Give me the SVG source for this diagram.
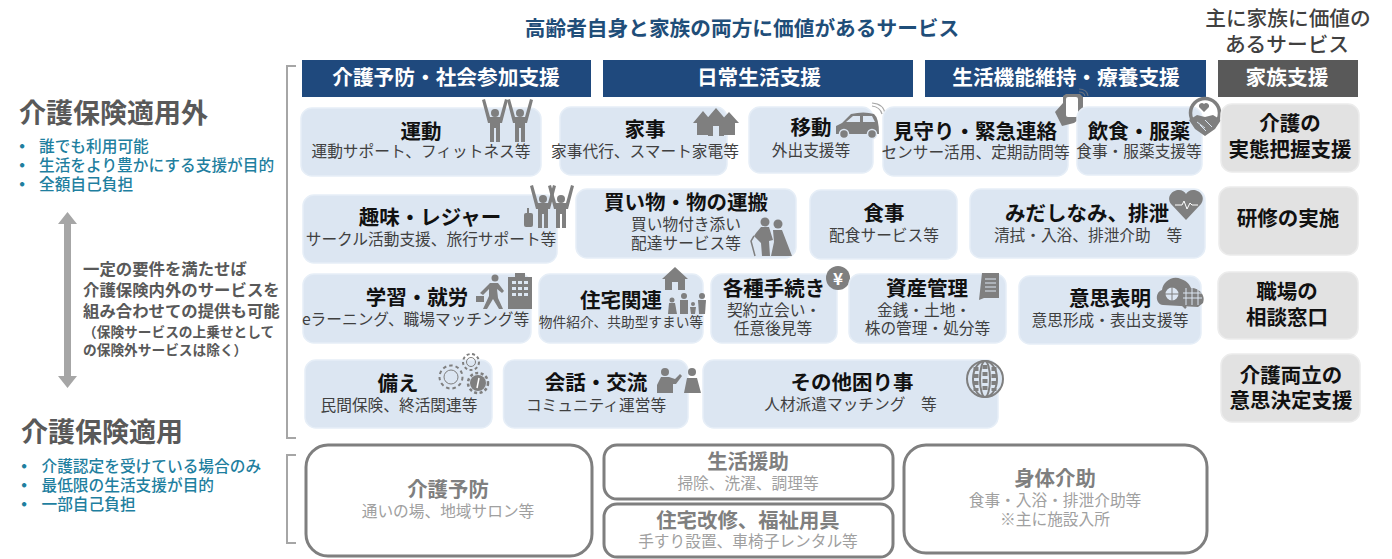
<svg xmlns="http://www.w3.org/2000/svg" xmlns:xlink="http://www.w3.org/1999/xlink" width="1392" height="559" viewBox="0 0 1392 559">
<style>
text{font-family:"Noto Sans CJK JP","Noto Sans",sans-serif;dominant-baseline:central;text-anchor:middle;transform:translateY(-1.5px)}
.b{fill:#dce6f2;stroke:#e6eef7;stroke-width:1.5}
.g{fill:#e2e2e2;stroke:#ececec;stroke-width:1.5}
.o{fill:#fff;stroke:#7f7f7f;stroke-width:3}
.h{stroke:none}
.t{font-size:20.5px;font-weight:700;fill:#111}
.s{font-size:15.7px;fill:#404040}
.w{font-size:20.7px;font-weight:700;fill:#fff}
.ot{font-size:20.4px;font-weight:700;fill:#7f7f7f}
.os{font-size:15.7px;fill:#a0a0a0}
.l{text-anchor:start}
.big{font-size:27px;font-weight:700;fill:#595959}
.bu{font-size:15.7px;font-weight:500;fill:#1f7f9f}
.d{font-weight:900}
.m{font-size:16.4px;font-weight:700;fill:#595959}
.n{font-size:13.7px;font-weight:700;fill:#595959}
.ic{fill:#7f7f7f}
.il{fill:none;stroke:#7f7f7f}
.br{fill:none;stroke:#a6a6a6;stroke-width:2}
</style>
<defs>
<g id="p"><circle cx="0" cy="-9" r="4"/><path d="M-5-4H5L6 8 3 8 3 20H-3L-3 8-6 8Z"/></g>
<g id="up"><circle cx="0" cy="-7" r="4"/><path d="M-13-20-10-21-5-3H5L10-21 13-20 7 3 5 3 5 22H1V8H-1V22H-5L-5 3-7 3Z"/></g>
</defs>
<text x="742" y="28" font-size="20.7" font-weight="700" fill="#1f4e79">高齢者自身と家族の両方に価値があるサービス</text>
<text x="1288" y="18" font-size="20.7" font-weight="500" fill="#404040">主に家族に価値の</text>
<text x="1287" y="44" font-size="20.7" font-weight="500" fill="#404040">あるサービス</text>
<g id="header-1"><rect class="h" x="302" y="60" width="289" height="37" fill="#1f497d"/><text class="w" x="446" y="77">介護予防・社会参加支援</text></g>
<g id="header-2"><rect class="h" x="603" y="60" width="310" height="37" fill="#1f497d"/><text class="w" x="759" y="77">日常生活支援</text></g>
<g id="header-3"><rect class="h" x="925" y="60" width="281" height="37" fill="#1f497d"/><text class="w" x="1066" y="77">生活機能維持・療養支援</text></g>
<g id="header-4"><rect class="h" x="1218" y="60" width="140" height="37" fill="#595959"/><text class="w" x="1287" y="77">家族支援</text></g>
<g id="connectors">
<path class="br" d="M296 66H287V438H296"/>
<path class="br" d="M296 455H287V543H296"/>
<path d="M67.500 212 77 224H71V376H77L67.500 388 58 376H64V224H58Z" fill="#a6a6a6"/>
</g>
<g id="left-upper">
<text class="big l" x="19" y="113">介護保険適用外</text>
<text class="bu d" x="22" y="147">・</text><text class="bu l" x="39" y="147">誰でも利用可能</text>
<text class="bu d" x="22" y="166">・</text><text class="bu l" x="39" y="166">生活をより豊かにする支援が目的</text>
<text class="bu d" x="22" y="185">・</text><text class="bu l" x="39" y="185">全額自己負担</text>
</g>
<g id="left-note">
<text class="m l" x="83" y="269">一定の要件を満たせば</text>
<text class="m l" x="83" y="290">介護保険内外のサービスを</text>
<text class="m l" x="83" y="311">組み合わせての提供も可能</text>
<text class="n l" x="83" y="332">（保険サービスの上乗せとして</text>
<text class="n l" x="83" y="350">の保険外サービスは除く）</text>
</g>
<g id="left-lower">
<text class="big l" x="21" y="432">介護保険適用</text>
<text class="bu d" x="24" y="467">・</text><text class="bu l" x="41.500" y="467">介護認定を受けている場合のみ</text>
<text class="bu d" x="24" y="486">・</text><text class="bu l" x="41.500" y="486">最低限の生活支援が目的</text>
<text class="bu d" x="24" y="505">・</text><text class="bu l" x="41.500" y="505">一部自己負担</text>
</g>
<g id="n-undou"><rect class="b" x="301" y="108" width="240" height="68" rx="11"/>
<g class="ic"><use xlink:href="#up" x="495" y="120"/><use xlink:href="#up" x="520" y="120"/></g>
<text class="t" x="421" y="131">運動</text><text class="s" x="421" y="152">運動サポート、フィットネス等</text></g>
<g id="n-kaji"><rect class="b" x="560" y="107" width="167" height="68" rx="11"/>
<path class="ic" d="M693 123 703 111 713 123H709V135H697V123ZM704 122 716 108 728 122H724V136H708V122ZM719 123 729 112 739 123H735V135H723V123Z"/>
<path d="M713 136V126H719V136Z" fill="#dce6f2"/>
<text class="t" x="645" y="129">家事</text><text class="s" x="645" y="152">家事代行、スマート家電等</text></g>
<g id="n-idou"><rect class="b" x="749" y="107" width="124" height="66" rx="11"/>
<path class="ic" d="M836 134V126L842 123 851 114Q864 111 874 114 879 118 879 134Z"/><path d="M846 122 853 116H860V122ZM863 116H872L875 122H863Z" fill="#dce6f2"/><circle cx="844" cy="134" r="4.500" fill="#7f7f7f" stroke="#dce6f2" stroke-width="1.500"/><circle cx="872" cy="134" r="4.500" fill="#7f7f7f" stroke="#dce6f2" stroke-width="1.500"/><path class="il" d="M872 106Q880 107 882 114M872 103Q884 104 885 114" stroke-width="1.200" opacity=".7"/>
<text class="t" x="811" y="127">移動</text><text class="s" x="811" y="151">外出支援等</text></g>
<g id="n-mimamori"><rect class="b" x="883" y="107" width="185" height="69" rx="11"/>
<path class="ic" d="M1055 112 1063 103V96L1066 94H1080L1083 97V116L1074 123 1062 126Z"/><rect x="1066" y="97" width="12" height="20" rx="2" fill="#fff"/><path class="il" stroke-width="1.200" opacity=".7" d="M1079 92Q1084 92 1085 96M1079 89Q1087 89 1088 96"/>
<text class="t" x="975" y="131">見守り・緊急連絡</text><text class="s" x="975.500" y="153">センサー活用、定期訪問等</text></g>
<g id="n-inshoku"><rect class="b" x="1077" y="107" width="125" height="68" rx="11"/>
<circle class="il" cx="1205" cy="113" r="14.500" stroke-width="3.500"/><path class="ic" d="M1189 120 1197 115 1205 117 1213 115 1221 120 1215 129 1205 136 1195 129Z"/><path d="M1197 122 1205 128M1205 120 1212 127M1200 125 1206 131" stroke="#dce6f2"/><path class="ic" d="M1204 112 1199 107A3 3 0 0 1 1204 104 3 3 0 0 1 1209 107Z"/>
<text class="t" x="1139" y="131">飲食・服薬</text><text class="s" x="1139" y="152">食事・服薬支援等</text></g>
<g id="n-kaigo-jittai"><rect class="g" x="1221" y="104" width="138" height="68" rx="11"/>
<text class="t" x="1290" y="123">介護の</text><text class="t" x="1290" y="149">実態把握支援</text></g>
<g id="n-shumi"><rect class="b" x="303" y="195" width="254" height="68" rx="11"/>
<g class="ic"><use xlink:href="#up" x="543" y="206"/><use xlink:href="#up" x="561" y="206"/><rect x="524" y="213" width="9" height="14" rx="2"/><rect x="527" y="208" width="2" height="5"/></g>
<text class="t" x="430" y="217">趣味・レジャー</text><text class="s" x="431" y="240">サークル活動支援、旅行サポート等</text></g>
<g id="n-kaimono"><rect class="b" x="576" y="189" width="220" height="69" rx="11"/>
<g class="ic"><circle cx="765" cy="222" r="4.500"/><path d="M761 227H769L773 240 769 241 770 256H762L761 243 754 236 756 233Z"/><circle cx="778" cy="224" r="4.500"/><path d="M773 230H782L792 256H771L774 242Z"/></g><path class="il" d="M754 236 751 241 755 256" stroke-width="1.500"/>
<text class="t" x="686" y="202">買い物・物の運搬</text><text class="s" x="686" y="225">買い物付き添い</text><text class="s" x="686" y="244">配達サービス等</text></g>
<g id="n-shokuji"><rect class="b" x="810" y="190" width="147" height="69" rx="11"/>
<text class="t" x="884" y="213">食事</text><text class="s" x="884" y="236">配食サービス等</text></g>
<g id="n-midashinami"><rect class="b" x="970" y="189" width="235" height="69" rx="11"/>
<path class="ic" d="M1186 220 1171 204C1166 197 1172 190 1179 190 1182 190 1185 192 1186 194 1187 192 1190 190 1193 190 1200 190 1206 197 1201 204Z"/><path d="M1175 205H1182L1184 201 1187 209 1190 203 1192 205H1198" fill="none" stroke="#fff"/>
<text class="t" x="1087" y="213">みだしなみ、排泄</text><text class="s" x="1088" y="236">清拭・入浴、排泄介助　等</text></g>
<g id="n-kenshu"><rect class="g" x="1219" y="187" width="139" height="68" rx="11"/>
<text class="t" x="1288" y="218">研修の実施</text></g>
<g id="n-gakushu"><rect class="b" x="303" y="274" width="228" height="69" rx="11"/>
<g class="ic"><circle cx="495" cy="278" r="3.500"/><path d="M490 283H498L504 291 502 293 497 289 498 298 503 309H499L493 299 487 309H483L489 296 489 289 483 295 480 293Z"/><rect x="476" y="296" width="8" height="6"/><path d="M508 277H515V273H525V277H532V309H508Z"/></g>
<path fill="#dce6f2" d="M512 281h4v3h-4zM518 281h4v3h-4zM524 281h4v3h-4zM512 287h4v3h-4zM518 287h4v3h-4zM524 287h4v3h-4zM512 293h4v3h-4zM518 293h4v3h-4zM524 293h4v3h-4z"/>
<text class="t" x="417" y="297">学習・就労</text><text class="s" x="415.500" y="320">eラーニング、職場マッチング等</text></g>
<g id="n-jutaku"><rect class="b" x="539" y="274" width="164" height="69" rx="11"/>
<g class="ic"><path d="M675 267 688 279H685V290H678V282H672V290H665V279H662Z"/><circle cx="672" cy="300" r="2.500"/><path d="M669 303H675L677 314H668Z"/><circle cx="684" cy="296" r="3"/><path d="M680 300H688L688 314H680Z"/><circle cx="702" cy="296" r="3"/><path d="M698 300H706L705 314H699Z"/><circle cx="693" cy="304" r="2"/><path d="M690 307H696L695 314H691Z"/></g>
<text class="t" x="621" y="300">住宅関連</text><text class="s" x="621" y="322" style="font-size:13.700px">物件紹介、共助型すまい等</text></g>
<g id="n-tetsuzuki"><rect class="b" x="711" y="274" width="126" height="69" rx="11"/>
<circle class="ic" cx="838" cy="278" r="12"/><text x="838" y="279" font-size="17" font-weight="700" fill="#fff">¥</text>
<text class="t" x="774" y="288">各種手続き</text><text class="s" x="774" y="311">契約立会い・</text><text class="s" x="773" y="329">任意後見等</text></g>
<g id="n-shisan"><rect class="b" x="849" y="274" width="157" height="69" rx="11"/>
<path class="ic" d="M982 273H999V298H984L979 300Z"/><path stroke="#dce6f2" d="M985 279H996M985 283H996M985 287H996M985 291H996"/>
<text class="t" x="927" y="288">資産管理</text><text class="s" x="924" y="311">金銭・土地・</text><text class="s" x="927.500" y="329">株の管理・処分等</text></g>
<g id="n-ishi"><rect class="b" x="1019" y="276" width="182" height="68" rx="11"/>
<path class="ic" d="M1163 305C1155 304 1155 292 1162 290 1163 282 1172 275 1181 279 1188 281 1190 286 1191 288 1200 288 1206 296 1203 303L1198 307Z"/><path stroke="#dce6f2" d="M1183 293H1202M1183 298H1202M1186 288V305M1192 288V305M1198 288V305"/><circle cx="1172" cy="294" r="7.500" fill="#dce6f2" stroke="#7f7f7f" stroke-width="2"/><path d="M1172 287V301M1165 294H1179" stroke="#7f7f7f"/><path d="M1178 300 1186 308" stroke="#7f7f7f" stroke-width="2.500"/>
<text class="t" x="1110" y="298">意思表明</text><text class="s" x="1110" y="321">意思形成・表出支援等</text></g>
<g id="n-sonae"><rect class="b" x="305" y="360" width="187" height="68" rx="11"/>
<circle cx="451" cy="377" r="11.500" fill="none" stroke="#7f7f7f" stroke-width="2" stroke-dasharray="3.500 3"/><circle cx="451" cy="377" r="7" fill="none" stroke="#7f7f7f"/>
<circle cx="471" cy="362" r="8" fill="none" stroke="#7f7f7f" stroke-width="2" stroke-dasharray="3 2.500"/><circle cx="471" cy="362" r="4.500" fill="none" stroke="#7f7f7f"/>
<circle cx="478" cy="383" r="8" fill="#7f7f7f"/><circle cx="478" cy="383" r="10" fill="none" stroke="#7f7f7f" stroke-width="2.500" stroke-dasharray="3 2.500"/><path d="M479 378 477 388" stroke="#fff" stroke-width="1.500"/>
<text class="t" x="398" y="383">備え</text><text class="s" x="399" y="406">民間保険、終活関連等</text></g>
<g id="n-kaiwa"><rect class="b" x="503.500" y="360" width="184.500" height="68" rx="11"/>
<g class="ic"><circle cx="665" cy="372" r="4"/><path d="M657 393V385L661 377H669L675 379 680 374 682 376 676 384 673 384V393ZM684 393 687 378H697L701 393Z"/><circle cx="692" cy="372" r="4"/></g>
<text class="t" x="596" y="382">会話・交流</text><text class="s" x="596" y="406">コミュニティ運営等</text></g>
<g id="n-sonota"><rect class="b" x="703" y="360" width="295" height="68" rx="11"/>
<circle cx="985" cy="379" r="18" fill="#dce6f2" stroke="#7f7f7f" stroke-width="2"/><g class="il" stroke-width="2"><ellipse cx="985" cy="379" rx="5" ry="18"/><ellipse cx="985" cy="379" rx="12" ry="18"/></g><path class="il" stroke-width="5" stroke-dasharray="4 3" d="M985 365V393M976 367V391M994 367V391"/>
<text class="t" x="852" y="382">その他困り事</text><text class="s" x="850.500" y="405">人材派遣マッチング　等</text></g>
<g id="n-shokuba"><rect class="g" x="1218" y="272" width="140" height="67" rx="11"/>
<text class="t" x="1287" y="291">職場の</text><text class="t" x="1287" y="317">相談窓口</text></g>
<g id="n-ryoritsu"><rect class="g" x="1221" y="354" width="139" height="68" rx="11"/>
<text class="t" x="1291" y="375">介護両立の</text><text class="t" x="1291" y="400">意思決定支援</text></g>
<g id="o-yobou"><rect class="o" x="306" y="445" width="286" height="111" rx="22"/>
<text class="ot" x="448" y="489">介護予防</text><text class="os" x="448" y="512">通いの場、地域サロン等</text></g>
<g id="o-seikatsu"><rect class="o" x="604" y="445" width="289" height="54" rx="13"/>
<text class="ot" x="748" y="461">生活援助</text><text class="os" x="748" y="484">掃除、洗濯、調理等</text></g>
<g id="o-jutaku"><rect class="o" x="604" y="504" width="289" height="53" rx="13"/>
<text class="ot" x="748" y="520">住宅改修、福祉用具</text><text class="os" x="748" y="542">手すり設置、車椅子レンタル等</text></g>
<g id="o-shintai"><rect class="o" x="904" y="445" width="303" height="108" rx="22"/>
<text class="ot" x="1055" y="478">身体介助</text><text class="os" x="1055" y="501">食事・入浴・排泄介助等</text><text class="os" x="1055" y="520">※主に施設入所</text></g>
</svg>
